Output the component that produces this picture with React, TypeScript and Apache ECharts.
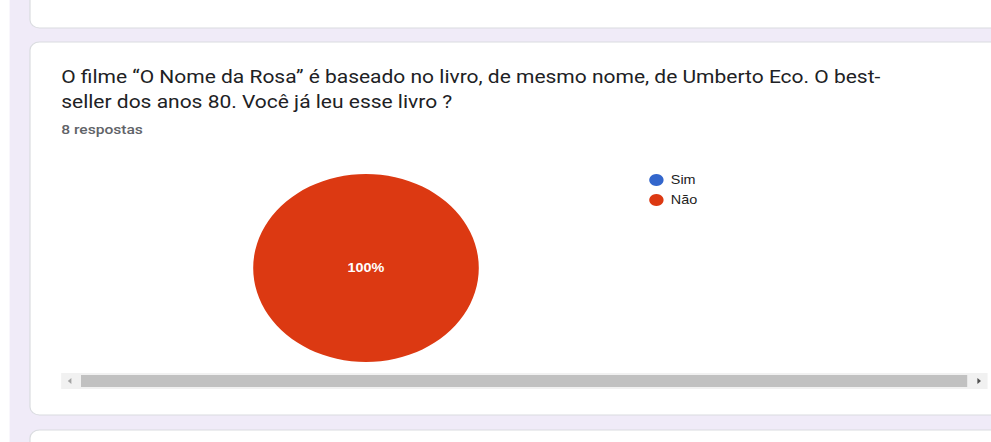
import React, { useEffect, useRef } from "react";
import * as echarts from "echarts";

const categories = ["Sim", "Não"];
const values = [0, 8];
const colors = ["#3366cc", "#dc3912"];
const titleLines = [
  "O filme “O Nome da Rosa” é baseado no livro, de mesmo nome, de Umberto Eco. O best-",
  "seller dos anos 80. Você já leu esse livro ?",
];
const responsesText = "8 respostas";

const S = 1.2;
const W = 991 / S;
const H = 442;

export default function App() {
  const ref = useRef<HTMLDivElement>(null);
  useEffect(() => {
    if (!ref.current) return;
    const chart = echarts.init(ref.current, null, { renderer: "svg" });
    const option: any = {
      animation: false,
      backgroundColor: "#f0ebf8",
      legend: {
        orient: "vertical",
        left: 536,
        top: 169,
        icon: "circle",
        itemWidth: 12,
        itemHeight: 12,
        itemGap: 8,
        data: categories,
        textStyle: { fontFamily: "Arial, 'Liberation Sans'", fontSize: 12, color: "#222222", padding: [0, 0, 0, 1] },
        selectedMode: false,
      },
      graphic: [
        { type: "rect", z: -10, shape: { x: 0, y: 0, width: 8, height: H }, style: { fill: "#ffffff" }, silent: true },
        { type: "rect", z: -9, shape: { x: 25, y: -20, width: W, height: 48, r: 8 }, style: { fill: "#ffffff", stroke: "#dadce0", lineWidth: 1 }, silent: true },
        { type: "rect", z: -9, shape: { x: 25, y: 42, width: W, height: 373, r: 8 }, style: { fill: "#ffffff", stroke: "#dadce0", lineWidth: 1 }, silent: true },
        { type: "rect", z: -9, shape: { x: 25, y: 430, width: W, height: 40, r: 8 }, style: { fill: "#ffffff", stroke: "#dadce0", lineWidth: 1 }, silent: true },
        { type: "text", z: 5, x: 51, y: 77, style: { text: titleLines[0], fontFamily: "Roboto", fontSize: 17.5, fill: "#202124", verticalAlign: "middle" } },
        { type: "text", z: 5, x: 51, y: 102, style: { text: titleLines[1], fontFamily: "Roboto", fontSize: 17.5, fill: "#202124", verticalAlign: "middle" } },
        { type: "text", z: 5, x: 51, y: 130, style: { text: responsesText, fontFamily: "Roboto", fontSize: 13, fontWeight: 500, fill: "#5f6368", verticalAlign: "middle" } },
        { type: "rect", z: 1, shape: { x: 51, y: 373, width: 772, height: 16 }, style: { fill: "#f1f1f1" }, silent: true },
        { type: "rect", z: 2, shape: { x: 67.5, y: 375, width: 738.5, height: 12 }, style: { fill: "#c1c1c1" }, silent: true },
        { type: "polygon", z: 2, shape: { points: [[59.5, 378], [59.5, 384], [56.5, 381]] }, style: { fill: "#a3a3a3" }, silent: true },
        { type: "polygon", z: 2, shape: { points: [[814.5, 378], [814.5, 384], [817.5, 381]] }, style: { fill: "#505050" }, silent: true },
      ],
      series: [
        {
          type: "pie",
          center: [305, 268],
          radius: 94,
          startAngle: 90,
          data: categories.map((c, i) => ({ name: c, value: values[i], itemStyle: { color: colors[i] } })),
          itemStyle: { borderWidth: 0 },
          label: {
            show: true,
            position: "center",
            formatter: (p: any) => (p.value > 0 ? Math.round(p.percent) + "%" : ""),
            color: "#ffffff",
            fontFamily: "Arial, 'Liberation Sans'",
            fontSize: 12,
            fontWeight: "bold",
          },
          labelLine: { show: false },
          emphasis: { disabled: true },
        },
      ],
    };
    chart.setOption(option);
    return () => chart.dispose();
  }, []);
  return (
    <div style={{ position: "absolute", left: 0, top: 0, width: 991, height: H, overflow: "hidden" }}>
      <div
        ref={ref}
        style={{ width: W, height: H, transform: `scaleX(${S})`, transformOrigin: "0 0" }}
      />
    </div>
  );
}
